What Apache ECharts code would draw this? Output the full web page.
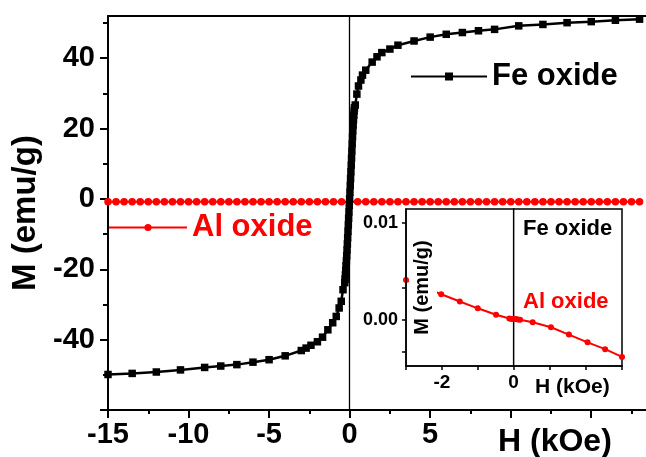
<!DOCTYPE html>
<html><head><meta charset="utf-8">
<script src="https://cdn.jsdelivr.net/npm/echarts@6/dist/echarts.min.js"></script>
<style>html,body{margin:0;padding:0;background:#fff}#c{width:646px;height:457px}</style>
</head><body><div id="c"></div>
<script>
// ---- data ----
const feH = [-15,-13.5,-12,-10.5,-9,-8,-7,-6,-5,-4,-3,-2.7,-2.4,-2,-1.68,-1.35,-1.05,-0.83,-0.65,-0.52,-0.41,
  -0.3,-0.28,-0.26,-0.24,-0.22,-0.2,-0.18,-0.16,-0.14,-0.12,-0.1,-0.08,-0.06,-0.04,-0.02,0,
  0.02,0.04,0.06,0.08,0.1,0.12,0.14,0.16,0.18,0.2,0.22,0.24,0.26,0.28,0.3,
  0.35,0.45,0.55,0.7,0.8,1,1.4,1.7,2,2.5,3,4,5,6,7,8,9,10.5,12,13.5,15,16.5,18];
const feM = [-49.9,-49.6,-49.2,-48.6,-47.9,-47.5,-47.1,-46.4,-45.7,-44.6,-43.1,-42.4,-41.6,-40.6,-39.3,-37.2,-35.2,-33.4,-31,-29.1,-25.8,
  -23.8,-22.8,-21.6,-20.3,-19.0,-17.6,-16.1,-14.5,-12.8,-11.0,-9.2,-7.4,-5.5,-3.7,-1.8,0,
  1.9,3.8,5.8,7.7,9.6,11.6,13.6,15.6,17.6,19.4,21.0,22.5,23.8,25.0,25.9,
  26.7,29.8,32.1,33.8,35.2,36.6,38.9,40.4,41.6,42.6,43.7,44.9,46,46.8,47.3,47.8,48.2,49.2,49.6,50.1,50.4,50.8,51.1];
const alH = [-15,-14.5,-14,-13.5,-13,-12.5,-12,-11.5,-11,-10.5,-10,-9.5,-9,-8.5,-8,-7.5,-7,-6.5,-6,-5.5,-5,-4.5,-4,-3.5,-3,-2.5,-2,-1.5,-1,-0.5,
  0,0.5,1,1.5,2,2.5,3,3.5,4,4.5,5,5.5,6,6.5,7,7.5,8,8.5,9,9.5,10,10.5,11,11.5,12,12.5,13,13.5,14,14.5,15,15.5,16,16.5,17,17.5,18];
const alM = [-0.8,-0.8,-0.8,-0.8,-0.8,-0.8,-0.8,-0.8,-0.8,-0.8,-0.8,-0.8,-0.8,-0.8,-0.8,-0.8,-0.8,-0.8,-0.8,-0.8,-0.8,-0.8,-0.8,-0.8,-0.8,-0.8,-0.8,-0.8,-0.8,-0.8,
  -0.8,-0.8,-0.8,-0.8,-0.8,-0.8,-0.8,-0.8,-0.8,-0.8,-0.8,-0.8,-0.8,-0.8,-0.8,-0.8,-0.8,-0.8,-0.8,-0.8,-0.8,-0.8,-0.8,-0.8,-0.8,-0.8,-0.8,-0.8,-0.8,-0.8,-0.8,-0.8,-0.8,-0.8,-0.8,-0.8,-0.8];
const alInsetH = [-3.0,-2.02,-1.5,-1.0,-0.49,-0.12,-0.06,0,0.06,0.12,0.18,0.53,1.04,1.54,2.06,2.55,3.02];
const alInsetM = [0.0041,0.00265,0.0019,0.0012,0.00054,0.00015,0.0001,0.0001,0.0001,0.00005,0.00002,-0.00024,-0.00075,-0.0015,-0.0023,-0.003,-0.0038];

const mainXMajorTicks = [-15,-10,-5,0,5,10,15];
const mainXMinorTicks = [-12.5,-7.5,-2.5,2.5,7.5,12.5,17.5];
const mainXTickLabels = [-15,-10,-5,0,5];
const mainYMajorTicks = [-60,-40,-20,0,20,40];
const mainYMinorTicks = [-50,-30,-10,10,30,50];
const mainYTickLabels = [-40,-20,0,20,40];
const insetXTicks = [-3,-2,-1,0,1,2,3];
const insetXTickLabels = [-2,0];
const insetYTicks = [-0.0033,0,0.0033,0.01];
const insetYTickLabels = [0,0.01];

const FONT = '"Liberation Sans", Arial, sans-serif';
const pair = (xs, ys) => xs.map((x, i) => [x, ys[i]]);

const chart = echarts.init(document.getElementById('c'), null, {renderer: 'canvas'});
chart.setOption({
  animation: false,
  backgroundColor: '#fff',
  textStyle: {fontFamily: FONT},
  grid: [
    {left: 108, top: 16, width: 538, height: 394, show: false},
    {left: 406, top: 209, width: 216, height: 157, show: true, backgroundColor: '#fff', borderColor: '#000', borderWidth: 1.5}
  ],
  xAxis: [
    {type: 'value', gridIndex: 0, min: -15, max: 18.4, position: 'bottom',
      axisLine: {onZero: false, lineStyle: {color: '#000', width: 2}},
      axisTick: {customValues: mainXMajorTicks, length: 8, lineStyle: {color: '#000', width: 2}},
      axisLabel: {customValues: mainXTickLabels, margin: 10, color: '#000', fontSize: 29, fontWeight: 'bold', fontFamily: FONT},
      splitLine: {show: false}},
    {type: 'value', gridIndex: 0, min: -15, max: 18.4, position: 'top',
      axisLine: {onZero: false, lineStyle: {color: '#000', width: 2}},
      axisTick: {show: false}, axisLabel: {show: false}, splitLine: {show: false}},
    {type: 'value', gridIndex: 0, min: -15, max: 18.4, position: 'bottom',
      axisLine: {show: false, onZero: false},
      axisTick: {customValues: mainXMinorTicks, length: 4, lineStyle: {color: '#000', width: 2}},
      axisLabel: {show: false}, splitLine: {show: false}},
    {type: 'value', gridIndex: 1, min: -3, max: 3.02, position: 'bottom',
      axisLine: {onZero: false, lineStyle: {color: '#000', width: 1.5}},
      axisTick: {customValues: insetXTicks, length: 4, lineStyle: {color: '#000', width: 1.5}},
      axisLabel: {customValues: insetXTickLabels, margin: 7, color: '#000', fontSize: 19, fontWeight: 'bold', fontFamily: FONT},
      splitLine: {show: false}}
  ],
  yAxis: [
    {type: 'value', gridIndex: 0, min: -60, max: 52, position: 'left',
      name: 'M (emu/g)', nameLocation: 'middle', nameRotate: 90, nameGap: 64,
      nameTextStyle: {color: '#000', fontSize: 33, fontWeight: 'bold', fontFamily: FONT},
      axisLine: {onZero: false, lineStyle: {color: '#000', width: 2}},
      axisTick: {customValues: mainYMajorTicks, length: 8, lineStyle: {color: '#000', width: 2}},
      axisLabel: {customValues: mainYTickLabels, margin: 13, color: '#000', fontSize: 29, fontWeight: 'bold', fontFamily: FONT},
      splitLine: {show: false}},
    {type: 'value', gridIndex: 0, min: -60, max: 52, position: 'left',
      axisLine: {show: false, onZero: false},
      axisTick: {customValues: mainYMinorTicks, length: 5, lineStyle: {color: '#000', width: 2}},
      axisLabel: {show: false}, splitLine: {show: false}},
    {type: 'value', gridIndex: 1, min: -0.00473, max: 0.01141, position: 'left', z: 10,
      name: 'M (emu/g)', nameLocation: 'middle', nameRotate: 90, nameGap: -31,
      nameTextStyle: {color: '#000', fontSize: 20, fontWeight: 'bold', fontFamily: FONT, backgroundColor: '#fff', padding: [3, 0, 5, 0]},
      axisLine: {onZero: false, lineStyle: {color: '#000', width: 1.5}},
      axisTick: {customValues: insetYTicks, length: 4, lineStyle: {color: '#000', width: 1.5}},
      axisLabel: {customValues: insetYTickLabels, margin: 8, color: '#000', fontSize: 18, fontWeight: 'bold', fontFamily: FONT,
        formatter: v => v.toFixed(2)},
      splitLine: {show: false}}
  ],
  legend: [
    {data: ['Fe oxide'], left: 410, top: 61, padding: 0, itemWidth: 76, itemHeight: 10,
      textStyle: {color: '#000', fontSize: 31, fontWeight: 'bold', fontFamily: FONT}},
    {data: ['Al oxide'], left: 108, top: 212, padding: 0, itemWidth: 78, itemHeight: 9,
      textStyle: {color: '#ff0000', fontSize: 31, fontWeight: 'bold', fontFamily: FONT}}
  ],
  graphic: [
    {type: 'text', left: 498, top: 426, z: 20, style: {text: 'H (kOe)', fill: '#000', font: 'bold 32px ' + FONT}},
    {type: 'text', left: 535, top: 377, z: 20, style: {text: 'H (kOe)', fill: '#000', font: 'bold 21px ' + FONT}},
    {type: 'text', left: 523, top: 218, z: 20, style: {text: 'Fe oxide', fill: '#000', font: 'bold 22px ' + FONT}},
    {type: 'text', left: 523, top: 291, z: 20, style: {text: 'Al oxide', fill: '#ff0000', font: 'bold 22px ' + FONT}}
  ],
  series: [
    {name: 'Al oxide', type: 'line', xAxisIndex: 0, yAxisIndex: 0, data: pair(alH, alM), showAllSymbol: true,
      symbol: 'circle', symbolSize: 7.5, lineStyle: {color: '#ff0000', width: 2}, itemStyle: {color: '#ff0000'}, z: 3},
    {name: 'Fe oxide', type: 'line', xAxisIndex: 0, yAxisIndex: 0, data: pair(feH, feM), showAllSymbol: true,
      symbol: 'rect', symbolSize: 7.5, lineStyle: {color: '#000', width: 2.5}, itemStyle: {color: '#000'}, z: 4,
      markLine: {silent: true, symbol: 'none', label: {show: false},
        lineStyle: {color: '#000', width: 1.3, type: 'solid'}, data: [{xAxis: 0}]}},
    {name: 'Fe oxide', type: 'line', xAxisIndex: 3, yAxisIndex: 2, data: pair(feH, feM), clip: true,
      symbol: 'none', lineStyle: {color: '#000', width: 1.5}},
    {name: 'Al oxide', type: 'line', xAxisIndex: 3, yAxisIndex: 2, data: pair(alInsetH, alInsetM), clip: true, showAllSymbol: true,
      symbol: 'circle', symbolSize: 6, lineStyle: {color: '#ff0000', width: 2}, itemStyle: {color: '#ff0000'}}
  ]
});
</script></body></html>
